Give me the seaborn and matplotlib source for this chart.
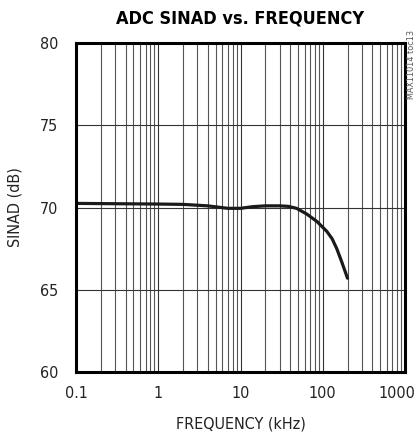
import numpy as np
import pandas as pd
import seaborn as sns
import matplotlib.pyplot as plt
import matplotlib.transforms as mtransforms
from matplotlib.ticker import LogLocator, FixedLocator, NullFormatter

# values
freq_khz = [0.1, 0.3, 1, 2, 4, 7, 10, 14, 20, 30, 38, 48, 64, 85, 112, 130, 148, 170, 200]
sinad_db = [70.25, 70.23, 70.21, 70.19, 70.1, 69.95, 69.95, 70.05, 70.1, 70.1, 70.07,
            69.95, 69.6, 69.15, 68.55, 68.1, 67.5, 66.7, 65.7]

x_ticks = [0.1, 1, 10, 100, 1000]
x_labels = ["0.1", "1", "10", "100", "1000"]
y_ticks = [60, 65, 70, 75, 80]

df = pd.DataFrame({"freq": freq_khz, "sinad": sinad_db})

sns.set_style("white")
plt.rcParams['font.family'] = ['DejaVu Sans']
plt.rcParams['font.stretch'] = 'condensed'

fig = plt.figure(figsize=(4.15, 4.34), dpi=100)
ax = fig.add_axes([76/415, 1-372/434, (405-76)/415, (372-43)/434])

sns.lineplot(data=df, x="freq", y="sinad", ax=ax, color="#1a1a1a", linewidth=2.3)

ax.set_xscale("log")
ax.set_xlim(0.1, 1000)
ax.set_ylim(60, 80)

# grid: every log minor line + major y lines
ax.xaxis.set_major_locator(FixedLocator(x_ticks))
ax.xaxis.set_minor_locator(LogLocator(base=10, subs=np.arange(2, 10)))
ax.xaxis.set_minor_formatter(NullFormatter())
ax.set_xticks(x_ticks)
ax.set_xticklabels(x_labels)
ax.set_yticks(y_ticks)
ax.grid(True, which="major", axis="both", color="#333333", linewidth=0.8)
ax.grid(True, which="minor", axis="x", color="#555555", linewidth=0.8)
ax.tick_params(axis="both", which="both", length=0, labelsize=11.5, colors="#222222")
ax.tick_params(axis="y", pad=13)
ax.tick_params(axis="x", pad=10)

# last x label sits a little inside the figure edge
last = ax.get_xticklabels()[-1]
last.set_transform(last.get_transform() + mtransforms.ScaledTranslation(-8/100, 0, fig.dpi_scale_trans))

for s in ax.spines.values():
    s.set_visible(True)
    s.set_color("black")
    s.set_linewidth(2.2)

ax.set_xlabel("FREQUENCY (kHz)", fontsize=11.5, color="#222222", labelpad=11)
ax.set_ylabel("SINAD (dB)", fontsize=11.5, color="#222222", labelpad=12)

fig.text(240/415, 1-18/434, "ADC SINAD vs. FREQUENCY", ha="center", va="center",
         fontsize=13, fontweight="bold", color="black")
fig.text(411/415, 1-30/434, "MAX11014 toc13", rotation=90, ha="center", va="top",
         fontsize=6.5, color="#555555")

plt.savefig("out.png", dpi=100)
